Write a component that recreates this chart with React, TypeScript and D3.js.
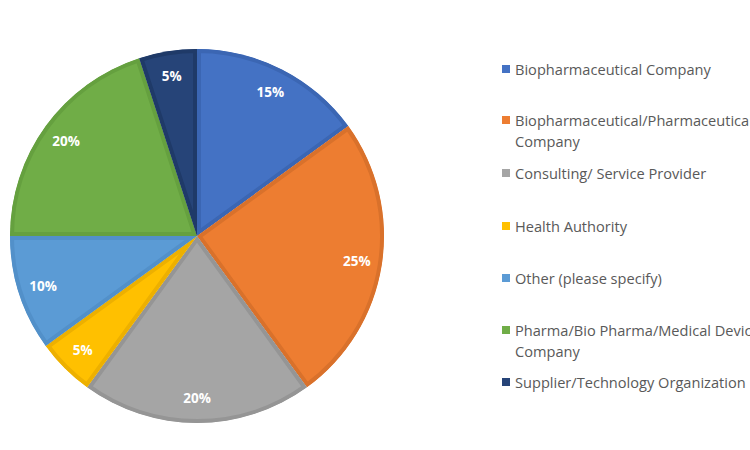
import React from "react";
import * as d3 from "d3";

const categories = [
  "Biopharmaceutical Company",
  "Biopharmaceutical/Pharmaceutical Company",
  "Consulting/ Service Provider",
  "Health Authority",
  "Other (please specify)",
  "Pharma/Bio Pharma/Medical Device Company",
  "Supplier/Technology Organization",
];
const values = [15, 25, 20, 5, 10, 20, 5];
const legendLines = [
  ["Biopharmaceutical Company"],
  ["Biopharmaceutical/Pharmaceutical", "Company"],
  ["Consulting/ Service Provider"],
  ["Health Authority"],
  ["Other (please specify)"],
  ["Pharma/Bio Pharma/Medical Device", "Company"],
  ["Supplier/Technology Organization"],
];
const colors = ["#4472C4", "#ED7D31", "#A5A5A5", "#FFC000", "#5B9BD5", "#70AD47", "#264478"];
const borders = ["#3B66B3", "#D9712B", "#959595", "#EDB000", "#5290C9", "#65A03F", "#1F3A68"];

export default function App() {
  const W = 750, H = 450;
  const cx = 197, cy = 236, r = 187;
  const pie = d3.pie<number>().sort(null).value((d) => d)(values);
  const arc = d3.arc<d3.PieArcDatum<number>>().innerRadius(0).outerRadius(r);
  const labelArc = d3.arc<d3.PieArcDatum<number>>().innerRadius(r * 0.865).outerRadius(r * 0.865);
  const legendY = [69, 120, 173, 226, 278, 330, 382];
  return (
    <svg width={W} height={H} style={{ position: "absolute", left: 0, top: 0, background: "#fff" }}>
      <defs>
        {pie.map((p, i) => (
          <clipPath id={`clip${i}`} key={i}>
            <path d={arc(p) || ""} />
          </clipPath>
        ))}
      </defs>
      <g transform={`translate(${cx},${cy})`}>
        {pie.map((p, i) => (
          <path
            key={i}
            d={arc(p) || ""}
            fill={colors[i]}
            stroke={borders[i]}
            strokeWidth={8}
            clipPath={`url(#clip${i})`}
          />
        ))}
        {pie.map((p, i) => {
          const [x, y] = labelArc.centroid(p);
          return (
            <text
              key={i}
              x={x}
              y={y}
              textAnchor="middle"
              dominantBaseline="central"
              fill="#fff"
              fontFamily="'Open Sans', sans-serif"
              fontWeight="bold"
              fontSize={13.5}
            >
              {Math.round((p.value / d3.sum(values)) * 100)}%
            </text>
          );
        })}
      </g>
      <g fontFamily="'Open Sans', sans-serif" fontSize={14.6} fill="#595959">
        {categories.map((c, i) => (
          <g key={c} transform={`translate(502,${legendY[i]})`}>
            <rect x={0} y={-4} width={8} height={8} fill={colors[i]} />
            {legendLines[i].map((ln, j) => (
              <text key={j} x={13} y={j * 21} dominantBaseline="central">
                {ln}
              </text>
            ))}
          </g>
        ))}
      </g>
    </svg>
  );
}
